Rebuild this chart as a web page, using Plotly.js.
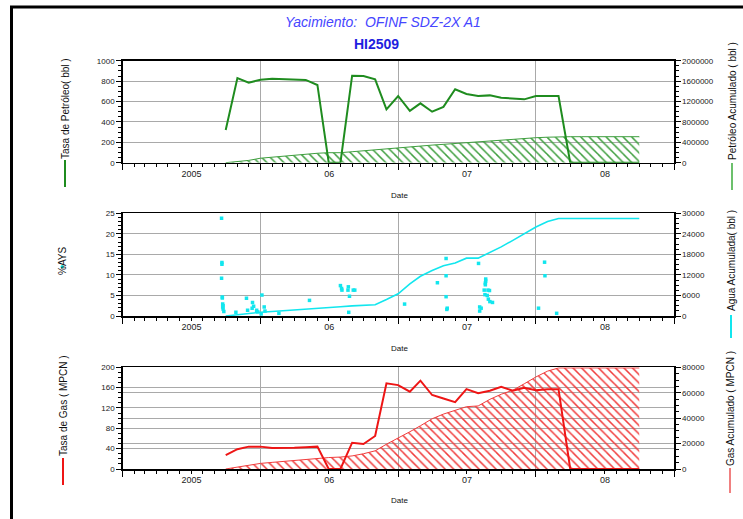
<!DOCTYPE html>
<html>
<head>
<meta charset="utf-8">
<script src="https://cdn.plot.ly/plotly-3.0.1.min.js"></script>
<style>
  html, body { margin: 0; padding: 0; background: #fff; }
  #chart { width: 743px; height: 519px; }
</style>
</head>
<body>
<div id="chart"></div>
<script>
// Monthly production history, Oct 2005 - Oct 2008
const months = [
  '2005-10-01','2005-11-01','2005-12-01',
  '2006-01-01','2006-02-01','2006-03-01','2006-04-01','2006-05-01','2006-06-01',
  '2006-07-01','2006-08-01','2006-09-01','2006-10-01','2006-11-01','2006-12-01',
  '2007-01-01','2007-02-01','2007-03-01','2007-04-01','2007-05-01','2007-06-01',
  '2007-07-01','2007-08-01','2007-09-01','2007-10-01','2007-11-01','2007-12-01',
  '2008-01-01','2008-02-01','2008-03-01','2008-04-01','2008-05-01','2008-06-01',
  '2008-07-01','2008-08-01','2008-09-01','2008-10-01'
];

// Oil rate (bbl) and cumulative oil (bbl)
const oilRate = [
  320, 830, 785,
  813, 822, 818, 812, 812, 762,
  0, 0, 853, 850, 817, 523,
  654, 508, 582, 500, 547, 720,
  674, 654, 660, 637, 631, 621,
  654, 654, 654, 0, 0, 0,
  0, 0, 0, 0
];
const oilCum = [
  0, 20000, 45000,
  88000, 110000, 130000, 150000, 168000, 185000,
  196000, 196000, 215000, 235000, 258000, 275000,
  294000, 310000, 328000, 345000, 360000, 378000,
  392000, 410000, 428000, 445000, 460000, 475000,
  490000, 500000, 510000, 510000, 510000, 510000,
  510000, 510000, 510000, 510000
];

// Water cut tests (%AYS) and cumulative water (bbl)
const aysDates = [
  '2005-09-20','2005-09-21','2005-09-21','2005-09-20','2005-09-22','2005-09-22',
  '2005-09-23','2005-09-24','2005-09-23','2005-09-24','2005-09-26','2005-10-28',
  '2005-11-25','2005-11-28','2005-12-11','2005-12-14','2005-12-10','2005-12-22',
  '2005-12-25','2006-01-05','2006-01-11','2006-01-13','2006-01-03','2006-02-19',
  '2006-05-11','2006-08-01','2006-08-04','2006-08-05','2006-08-22','2006-08-21',
  '2006-09-04','2006-09-08','2006-08-25','2006-08-23','2007-01-18','2007-04-15',
  '2007-05-08','2007-05-08','2007-05-08','2007-05-11','2007-05-10','2007-08-02',
  '2007-08-21','2007-08-21','2007-08-20','2007-08-20','2007-08-17','2007-08-27',
  '2007-08-31','2007-08-19','2007-08-25','2007-08-28','2007-09-01','2007-09-08',
  '2007-08-05','2007-08-09','2007-08-05','2008-01-08','2008-01-24','2008-01-25',
  '2008-02-25'
];
const aysValues = [
  23.8, 13.0, 12.6, 9.2, 4.6, 4.4,
  2.9, 2.5, 2.2, 1.7, 1.1, 0.9,
  4.3, 1.4, 3.3, 2.4, 1.9, 1.4,
  1.0, 5.1, 2.2, 1.2, 0.5, 0.65,
  3.8, 7.4, 6.7, 6.3, 7.1, 6.3,
  6.3, 6.3, 4.8, 0.9, 2.9, 8.1,
  14.0, 9.8, 4.7, 1.9, 1.6, 12.8,
  9.0, 8.5, 8.0, 7.6, 6.3, 6.3,
  6.2, 5.2, 5.0, 4.1, 3.5, 3.3,
  2.2, 1.9, 1.2, 1.9, 13.1, 9.8,
  0.65
];
const waterCum = [
  0, 400, 800,
  1100, 1300, 1550, 1780, 2010, 2250,
  2480, 2720, 2950, 3150, 3300, 4800,
  6500, 9400, 11600, 13300, 14700, 15500,
  16900, 16900, 18500, 20200, 22100, 24000,
  26000, 27600, 28500, 28500, 28500, 28500,
  28500, 28500, 28500, 28500
];

// Gas rate (MPCN) and cumulative gas (MPCN)
const gasRate = [
  27.5, 39, 44,
  44, 41.5, 41.5, 42, 43, 44,
  0, 0, 51.7, 49, 65, 168.5,
  165, 152, 173.7, 145.5, 138.5, 131.5,
  157, 149, 154, 161.5, 154, 159.5,
  155, 157, 157, 0, 0, 0,
  0, 0, 0, 0
];
const gasCum = [
  0, 1500, 3000,
  4400, 5200, 6000, 6800, 7600, 8300,
  9000, 9400, 10300, 12000, 14300, 19500,
  24200, 29300, 34000, 39500, 43200, 46000,
  49000, 49600, 54800, 58800, 62000, 67000,
  72400, 77000, 79500, 79500, 79500, 79500,
  79500, 79500, 79500, 79500
];

const yearLabels = {'05': '2005'};

// ---- styling ----
const W = 743, H = 519;
const FONT = 'Liberation Sans, Arial, sans-serif';
const GRID = '#a9a9a9';
const px = v => v / W;
const py = v => 1 - v / H;
const xDomain = [px(122.7), px(674)];
const panelTop = [60.7, 213.3, 367.3];
const panelBot = [162.7, 316, 469];
const yDomain = i => [py(panelBot[i]), py(panelTop[i])];

const OIL = '#1f8c1f', OIL_CUM = '#3e9e3e', OIL_CUM_KEY = '#6cc06c';
const WATER = '#12e6ee';
const GAS = '#ee1515', GAS_CUM = '#f03c3c', GAS_CUM_KEY = '#f08080';

function xAxis(anchor) {
  return {
    type: 'date', anchor: anchor, domain: xDomain,
    range: ['2005-01-01', '2009-01-01'],
    tick0: '2005-01-01', dtick: 'M12',
    ticklabelmode: 'period', tickformat: '%y', labelalias: yearLabels,
    ticklabelstandoff: -4,
    ticks: 'outside', ticklen: 6, tickwidth: 1, tickcolor: '#000',
    showgrid: true, gridcolor: GRID, gridwidth: 1,
    minor: {dtick: 'M1', tick0: '2005-01-01', ticks: 'outside', ticklen: 3,
            tickwidth: 1, tickcolor: '#000', showgrid: false},
    showline: true, linecolor: '#000', linewidth: 1.5, mirror: true,
    zeroline: false, automargin: false,
    tickfont: {family: FONT, size: 9, color: '#222'}
  };
}

function yAxis(i, side, range, dtick, minorDtick, overlay) {
  const ax = {
    domain: yDomain(i), anchor: 'x' + (i === 0 ? '' : (i + 1)), side: side,
    range: range, dtick: dtick, tick0: 0, tickformat: 'd',
    ticks: 'outside', ticklen: 5, tickwidth: 1, tickcolor: '#000',
    minor: {dtick: minorDtick, ticks: 'outside', ticklen: 3, tickwidth: 1,
            tickcolor: '#000', showgrid: false},
    showgrid: true, gridcolor: GRID, gridwidth: 1,
    showline: true, linecolor: '#000', linewidth: 1.5,
    zeroline: false, automargin: false,
    tickfont: {family: FONT, size: 8, color: '#222'}
  };
  if (overlay) ax.overlaying = overlay;
  return ax;
}

const hatch = c => ({shape: '\\', fgcolor: c, bgcolor: 'rgba(0,0,0,0)',
                     size: 6, solidity: 0.25, fgopacity: 1});

const traces = [
  // Panel 1: oil
  {x: months, y: oilCum, xaxis: 'x', yaxis: 'y', type: 'scatter', mode: 'lines',
   line: {color: OIL_CUM, width: 1}, fill: 'tozeroy', fillcolor: 'rgba(0,0,0,0)',
   fillpattern: hatch(OIL_CUM), name: 'Petróleo Acumulado'},
  {x: months, y: oilRate, xaxis: 'x', yaxis: 'y2', type: 'scatter', mode: 'lines',
   line: {color: OIL, width: 2}, name: 'Tasa de Petróleo'},
  // Panel 2: water
  {x: months, y: waterCum, xaxis: 'x2', yaxis: 'y3', type: 'scatter', mode: 'lines',
   line: {color: WATER, width: 1.6}, name: 'Agua Acumulada'},
  {x: aysDates, y: aysValues, xaxis: 'x2', yaxis: 'y4', type: 'scatter', mode: 'markers',
   marker: {symbol: 'square', size: 3.5, color: WATER, line: {width: 0}}, name: '%AYS'},
  // Panel 3: gas
  {x: months, y: gasCum, xaxis: 'x3', yaxis: 'y5', type: 'scatter', mode: 'lines',
   line: {color: GAS_CUM, width: 1}, fill: 'tozeroy', fillcolor: 'rgba(0,0,0,0)',
   fillpattern: hatch(GAS_CUM), name: 'Gas Acumulado'},
  {x: months, y: gasRate, xaxis: 'x3', yaxis: 'y6', type: 'scatter', mode: 'lines',
   line: {color: GAS, width: 2}, name: 'Tasa de Gas'}
];

function vTitle(text, x, y) {
  return {text: text, xref: 'paper', yref: 'paper', x: px(x), y: py(y),
          xanchor: 'center', yanchor: 'middle', textangle: -90, showarrow: false,
          font: {family: FONT, size: 10, color: '#111'}};
}
function dateTitle(y) {
  return {text: 'Date', xref: 'paper', yref: 'paper', x: px(399), y: py(y),
          xanchor: 'center', yanchor: 'middle', showarrow: false,
          font: {family: FONT, size: 8, color: '#111'}};
}
function keyLine(x, y0, y1, color) {
  return {type: 'line', xref: 'paper', yref: 'paper', x0: px(x), x1: px(x),
          y0: py(y0), y1: py(y1), line: {color: color, width: 2}};
}

const layout = {
  width: W, height: H, autosize: false,
  margin: {l: 0, r: 0, t: 0, b: 0},
  paper_bgcolor: '#fff', plot_bgcolor: '#fff',
  showlegend: false,
  font: {family: FONT},
  xaxis: xAxis('y'),
  xaxis2: xAxis('y3'),
  xaxis3: xAxis('y5'),
  yaxis:  yAxis(0, 'right', [0, 2000000], 400000, 100000),
  yaxis2: yAxis(0, 'left', [0, 1000], 200, 50, 'y'),
  yaxis3: yAxis(1, 'right', [0, 30000], 6000, 1500),
  yaxis4: yAxis(1, 'left', [0, 25], 5, 1, 'y3'),
  yaxis5: yAxis(2, 'right', [0, 80000], 20000, 5000),
  yaxis6: yAxis(2, 'left', [0, 200], 40, 10, 'y5'),
  annotations: [
    {text: '<i>Yacimiento:&nbsp;&nbsp;OFINF SDZ-2X A1</i>', xref: 'paper', yref: 'paper',
     x: px(383), y: py(22), xanchor: 'center', yanchor: 'middle', showarrow: false,
     font: {family: FONT, size: 14, color: '#4646ff'}},
    {text: '<b>HI2509</b>', xref: 'paper', yref: 'paper',
     x: px(376), y: py(44), xanchor: 'center', yanchor: 'middle', showarrow: false,
     font: {family: FONT, size: 14, color: '#1e1ee0'}},
    vTitle('Tasa de Petróleo( bbl )', 65, 109),
    vTitle('Petróleo Acumulado ( bbl )', 732, 101),
    vTitle('%AYS', 62, 261),
    vTitle('Agua Acumulada( bbl )', 731, 261),
    vTitle('Tasa de Gas ( MPCN )', 63, 406),
    vTitle('Gas Acumulado ( MPCN )', 730, 409),
    dateTitle(195), dateTitle(348), dateTitle(500)
  ],
  shapes: [
    // window frame
    {type: 'line', xref: 'paper', yref: 'paper', x0: px(10), x1: 1, y0: py(7), y1: py(7),
     line: {color: '#000', width: 3}},
    {type: 'line', xref: 'paper', yref: 'paper', x0: px(11.5), x1: px(11.5), y0: py(6), y1: 0,
     line: {color: '#000', width: 3}},
    // series keys beside the axis titles
    keyLine(65, 160, 187, OIL),
    keyLine(732, 163, 190, OIL_CUM_KEY),
    keyLine(731, 315, 338, WATER),
    keyLine(63, 458, 485, GAS),
    keyLine(730, 468, 493, GAS_CUM_KEY),
    {type: 'circle', xref: 'paper', yref: 'paper', x0: px(60.5), x1: px(64), y0: py(265), y1: py(268.5),
     fillcolor: WATER, line: {width: 0}}
  ]
};

Plotly.newPlot('chart', traces, layout, {staticPlot: true, displayModeBar: false});
</script>
</body>
</html>
